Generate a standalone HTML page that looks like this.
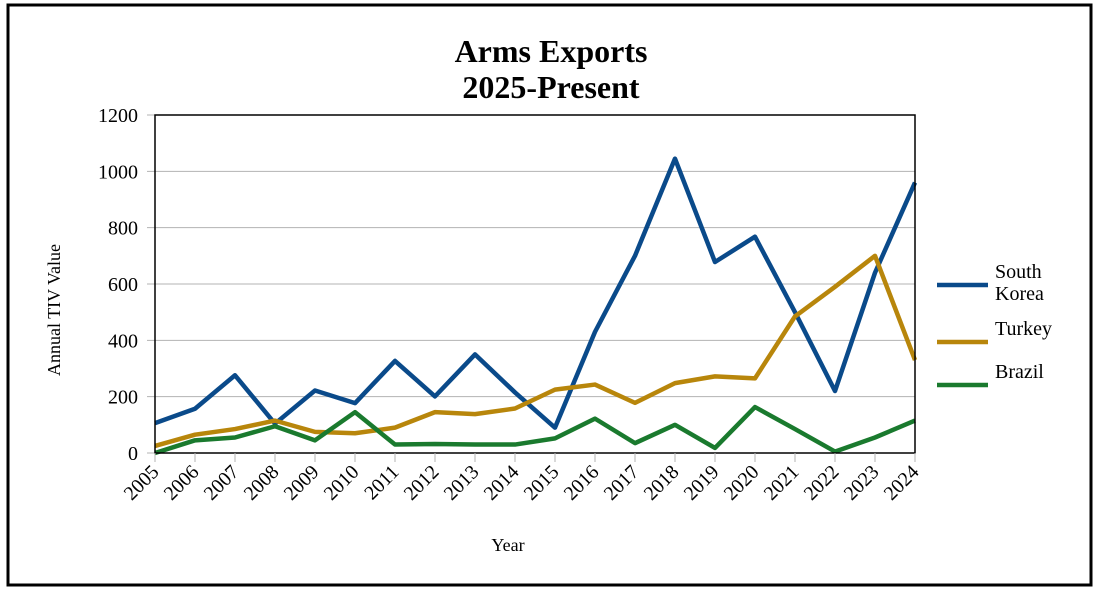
<!DOCTYPE html>
<html><head><meta charset="utf-8"><style>
html,body{margin:0;padding:0;background:#fff;}
svg{display:block;font-family:"Liberation Serif",serif;}
</style></head><body>
<svg id="chart" width="1101" height="590" viewBox="0 0 1101 590" xmlns="http://www.w3.org/2000/svg">
<rect x="8" y="5" width="1083" height="580" fill="#fff" stroke="#000" stroke-width="3"/>
<text x="551" y="62" font-size="32" font-weight="bold" text-anchor="middle">Arms Exports</text>
<text x="551" y="98" font-size="32" font-weight="bold" text-anchor="middle">2025-Present</text>
<g id="grid"></g>
<g id="series"></g>
<g id="axes"></g>
<text transform="translate(60,310) rotate(-90)" font-size="18" text-anchor="middle">Annual TIV Value</text>
<text x="508" y="551" font-size="18" text-anchor="middle">Year</text>
<g id="legend"></g>
</svg>
<script>
const years=["2005","2006","2007","2008","2009","2010","2011","2012","2013","2014","2015","2016","2017","2018","2019","2020","2021","2022","2023","2024"];
const southKorea=[106,157,276,104,222,177,327,201,350,215,90,430,700,1045,678,768,500,220,640,960];
const turkey=[25,65,85,115,75,70,90,145,138,158,225,243,178,248,272,265,485,590,700,330];
const brazil=[0,45,55,95,45,145,30,32,30,30,52,122,35,100,18,163,85,5,55,115];
const yTicks=[0,200,400,600,800,1000,1200];
const seriesNames=["South Korea","Turkey","Brazil"];
const NS="http://www.w3.org/2000/svg";
const X0=155,X1=915,Y0=453,Y1=115;
const xS=i=>X0+(X1-X0)*i/(years.length-1);
const yS=v=>Y0-(Y0-Y1)*v/1200;
function mk(tag,attrs,parent){const e=document.createElementNS(NS,tag);for(const k in attrs)e.setAttribute(k,attrs[k]);parent.appendChild(e);return e;}
const grid=document.getElementById('grid'),axes=document.getElementById('axes'),ser=document.getElementById('series'),leg=document.getElementById('legend');
yTicks.forEach(t=>{
 const l=mk('line',{x1:X0-8,x2:X1,y1:yS(t),y2:yS(t),stroke:'#b3b3b3','stroke-width':1},grid);
 
 
 const tx=mk('text',{x:X0-17,y:yS(t)+7,'font-size':20,'text-anchor':'end'},axes);
 tx.textContent=t;
 
 
});
const box=mk('rect',{x:X0,y:Y1,width:X1-X0,height:Y0-Y1,fill:'none',stroke:'#000','stroke-width':1.5},axes);


years.forEach((y,i)=>{
 const tk=mk('line',{x1:xS(i),x2:xS(i),y1:Y0,y2:Y0+9,stroke:'#b3b3b3','stroke-width':1},axes);
 
 
 const tx=mk('text',{transform:`translate(${xS(i)+5},${Y0+20}) rotate(-45)`,'font-size':20,'text-anchor':'end'},axes);
 tx.textContent=y;
 
 
});
const colorsReal=['#0a4a8a','#b8860b','#1a7a2e'];
[southKorea,turkey,brazil].forEach((d,s)=>{
 const p=mk('polyline',{points:d.map((v,i)=>xS(i)+','+yS(v)).join(' '),fill:'none',stroke:colorsReal[s],'stroke-width':4.5,'stroke-linejoin':'round'},ser);
 
 
});
const legY=[285,342,385];
seriesNames.forEach((n,s)=>{
 const l=mk('line',{x1:937,x2:988,y1:legY[s],y2:legY[s],stroke:colorsReal[s],'stroke-width':4.5},leg);
 
 
 const t=mk('text',{x:995,y:legY[s]-7,'font-size':20},leg);
 
 
 if(s===0){t.setAttribute('y',278);const a=mk('tspan',{x:995},t);a.textContent='South';const b=mk('tspan',{x:995,dy:22},t);b.textContent='Korea';}
 else t.textContent=n;
});
</script>
</body></html>
